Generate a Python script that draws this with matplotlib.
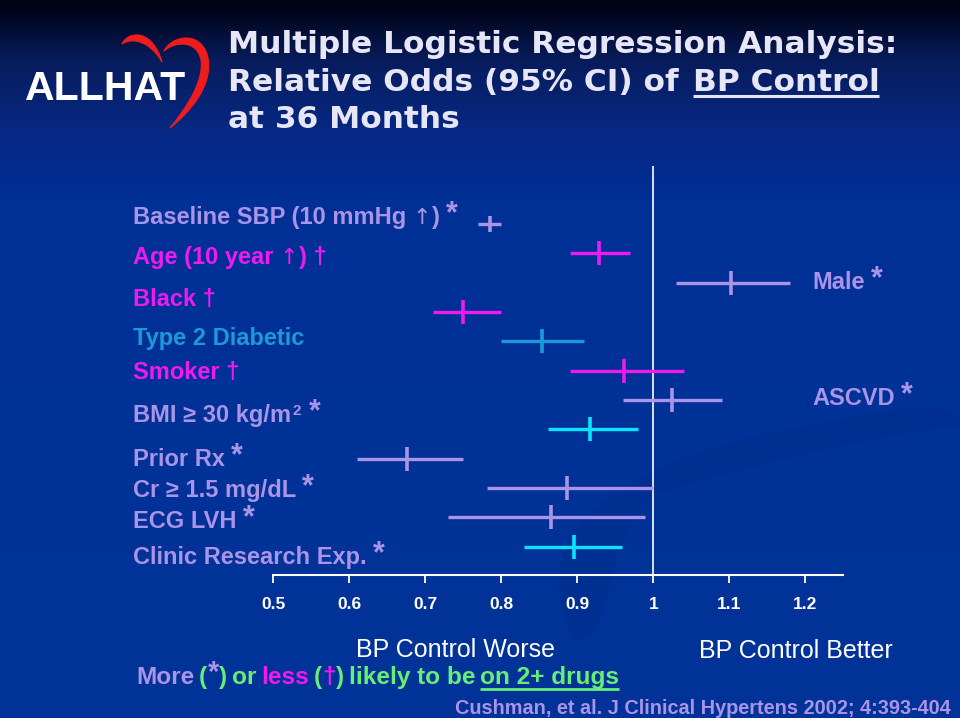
import numpy as np
import matplotlib
matplotlib.use("Agg")
import matplotlib.pyplot as plt
from matplotlib.path import Path
from matplotlib.patches import PathPatch

# ---------------- data ----------------
categories = ["Baseline SBP", "Age", "Male", "Black", "Type 2 Diabetic", "Smoker",
              "ASCVD", "BMI", "Prior Rx", "Cr", "ECG LVH", "Clinic Research Exp."]
odds = [0.785, 0.928, 1.102, 0.750, 0.853, 0.962, 1.025, 0.917, 0.676, 0.887, 0.866, 0.895]
ci_low = [0.769, 0.890, 1.030, 0.710, 0.800, 0.890, 0.960, 0.861, 0.610, 0.781, 0.730, 0.830]
ci_high = [0.800, 0.969, 1.180, 0.799, 0.909, 1.040, 1.090, 0.980, 0.750, 1.000, 0.989, 0.959]
x_ticks = [0.5, 0.6, 0.7, 0.8, 0.9, 1.0, 1.1, 1.2]
x_tick_labels = ["0.5", "0.6", "0.7", "0.8", "0.9", "1", "1.1", "1.2"]

LAV = "#a994e8"
MAG = "#f019f0"
TEAL = "#1c9ad8"
CYAN = "#08e4ff"
GREEN = "#66ee77"
TITLE = "#e6e6f6"

row_colors = [LAV, MAG, LAV, MAG, TEAL, MAG, LAV, CYAN, LAV, LAV, LAV, CYAN]

W, H = 960, 718
fig = plt.figure(figsize=(W / 100, H / 100), dpi=100)

# ---------------- background ----------------
bg = fig.add_axes([0, 0, 1, 1])
bg.set_xlim(0, W)
bg.set_ylim(H, 0)
bg.axis("off")
stops_y = [0, 18, 60, 130, 200, 718]
stops_c = np.array([(0, 3, 18), (2, 8, 36), (8, 28, 92), (6, 40, 132), (0, 48, 150), (0, 51, 153)]) / 255
ys = np.arange(H)
grad = np.stack([np.interp(ys, stops_y, stops_c[:, k]) for k in range(3)], axis=1)
img = np.repeat(grad[:, None, :], W, axis=1)
bg.imshow(img, extent=(0, W, H, 0), aspect="auto", zorder=0)

# faint swoosh
sw = Path([(575, 640), (520, 540), (610, 470), (760, 435), (880, 410), (960, 395), (960, 425),
           (880, 435), (770, 460), (650, 495), (600, 550), (615, 640), (575, 640)],
          [Path.MOVETO, Path.CURVE4, Path.CURVE4, Path.CURVE4, Path.CURVE4, Path.CURVE4, Path.LINETO,
           Path.CURVE4, Path.CURVE4, Path.CURVE4, Path.CURVE4, Path.CURVE4, Path.CLOSEPOLY])
bg.add_patch(PathPatch(sw, facecolor="#00287f", edgecolor="none", alpha=0.22, zorder=1))

# heart
left_lobe = Path([(122, 44), (128, 31), (152, 28), (162, 62),
                  (150, 41), (132, 37), (122, 44), (122, 44)],
                 [Path.MOVETO, Path.CURVE4, Path.CURVE4, Path.CURVE4,
                  Path.CURVE4, Path.CURVE4, Path.CURVE4, Path.CLOSEPOLY])
right_lobe = Path([(164, 51), (172, 35), (202, 30), (208, 58),
                   (213, 86), (190, 112), (170, 128),
                   (186, 108), (204, 82), (201, 60),
                   (197, 40), (175, 41), (164, 51), (164, 51)],
                  [Path.MOVETO, Path.CURVE4, Path.CURVE4, Path.CURVE4,
                   Path.CURVE4, Path.CURVE4, Path.CURVE4,
                   Path.CURVE4, Path.CURVE4, Path.CURVE4,
                   Path.CURVE4, Path.CURVE4, Path.CURVE4, Path.CLOSEPOLY])
for p in (left_lobe, right_lobe):
    bg.add_patch(PathPatch(p, facecolor="#ee1c1c", edgecolor="#ee1c1c", lw=0.8, zorder=3))

renderer = fig.canvas.get_renderer()
FAM = ["Liberation Sans", "DejaVu Sans"]
DJ = ["DejaVu Sans"]


def runs(x, y, parts, va="baseline"):
    """parts: list of (text, color, size, weight, dy, gap_after[, family])"""
    items = []
    for part in parts:
        s, color, size, weight, dy, gap = part[:6]
        fam = part[6] if len(part) > 6 else FAM
        t = bg.text(x, y + dy, s, color=color, fontsize=size, fontweight=weight,
                    family=fam, ha="left", va=va, zorder=5)
        bb = t.get_window_extent(renderer=renderer)
        items.append((t, x, x + bb.width))
        x += bb.width + gap
    return items


# ---------------- titles ----------------
bg.text(25, 100, "ALLHAT", color="white", fontsize=29.5, fontweight="bold",
        family=FAM, ha="left", va="baseline", zorder=5)
TF = dict(color=TITLE, fontsize=22.5, fontweight="bold", family=DJ,
          ha="left", va="baseline", zorder=5)
bg.text(228, 53, "Multiple Logistic Regression Analysis:", **TF)
t2 = bg.text(228, 91, "Relative Odds (95% CI) of", **TF)
bb2 = t2.get_window_extent(renderer=renderer)
x0 = 228 + bb2.width + 14
t3 = bg.text(x0, 91, "BP Control", **TF)
bb3 = t3.get_window_extent(renderer=renderer)
bg.plot([x0, x0 + bb3.width], [96, 96], color=TITLE, lw=2.2, zorder=5, solid_capstyle="butt")
bg.text(228, 128, "at 36 Months", **TF)

# ---------------- row labels ----------------
LS = 17
SS = 22
B = "bold"
N = "normal"


def lab(text, color, star=False, arrow_split=None):
    parts = []
    if arrow_split is not None:
        a, b = arrow_split
        parts += [(a, color, LS, B, 0, 6), ("↑", color, LS - 1, N, 0, 1, DJ), (b, color, LS, B, 0, 6)]
    else:
        parts.append((text, color, LS, B, 0, 6))
    if star:
        parts.append(("*", color, SS, B, -2, 0))
    return parts


labels = [
    (133, 224, lab(None, LAV, True, ("Baseline SBP (10 mmHg", ")"))),
    (133, 264, lab(None, MAG, False, ("Age (10 year", ") †"))),
    (133, 306, lab("Black †", MAG)),
    (133, 345, lab("Type 2 Diabetic", TEAL)),
    (133, 379, lab("Smoker †", MAG)),
    (133, 422, [("BMI ≥ 30 kg/m", LAV, LS, B, 0, 1), ("2", LAV, 11, B, -7, 8),
                ("*", LAV, SS, B, -2, 0)]),
    (133, 466, lab("Prior Rx", LAV, True)),
    (133, 497, lab("Cr ≥ 1.5 mg/dL", LAV, True)),
    (133, 528, lab("ECG LVH", LAV, True)),
    (133, 564, lab("Clinic Research Exp.", LAV, True)),
    (812, 289, lab("Male", LAV, True)),
    (812, 405, lab("ASCVD", LAV, True)),
]
for x, y, parts in labels:
    runs(x, y, parts)

# ---------------- forest plot ----------------
ax_left, ax_right = 273.3, 843.3
ax_top, ax_bot = 165.5, 575.0
ax = fig.add_axes([ax_left / W, 1 - ax_bot / H, (ax_right - ax_left) / W, (ax_bot - ax_top) / H])
ax.set_facecolor("none")
ax.patch.set_alpha(0)
ax.set_xlim(0.5, 1.25)
ax.set_ylim(11.97, -2.0)
for s in ("top", "right", "left"):
    ax.spines[s].set_visible(False)
ax.spines["bottom"].set_color("white")
ax.spines["bottom"].set_linewidth(1.5)
ax.set_yticks([])
ax.set_xticks(x_ticks)
ax.set_xticklabels(x_tick_labels, fontsize=12.5, fontweight="bold", color="white", family=FAM)
ax.tick_params(axis="x", colors="white", direction="out", length=6, width=1.3, pad=10)
ax.axvline(1.0, color="white", lw=1.2, zorder=2)

rows = np.arange(len(categories))
for i in rows:
    c = row_colors[i]
    ax.plot([ci_low[i], ci_high[i]], [i, i], color=c, lw=2.4, solid_capstyle="butt", zorder=3)
    ax.plot([odds[i]], [i], marker="|", color=c, markersize=12 if i == 0 else 17,
            markeredgewidth=2.6, zorder=4)

# ---------------- bottom text ----------------
BF = dict(color="white", fontsize=18, family=FAM, ha="center", va="baseline", zorder=5)
bg.text(455, 657, "BP Control Worse", **BF)
bg.text(796, 658, "BP Control Better", **BF)

BS = 17.6
parts = [("More", LAV, BS, B, 0, 5), ("(", GREEN, BS, B, 0, 0),
         ("*", LAV, 21, B, -3, 0), (")", GREEN, BS, B, 0, 5),
         ("or", GREEN, BS, B, 0, 5), ("less", MAG, BS, B, 0, 5),
         ("(", GREEN, BS, B, 0, 0), ("†", MAG, BS, B, 0, 0),
         (")", GREEN, BS, B, 0, 5), ("likely to be", GREEN, BS, B, 0, 5),
         ("on 2+ drugs", GREEN, BS, B, 0, 0)]
items = runs(136, 684, parts)
t_last, xa, xb = items[-1]
bg.plot([xa, xb], [689, 689], color=GREEN, lw=2.0, zorder=5, solid_capstyle="butt")

bg.text(951, 714, "Cushman, et al. J Clinical Hypertens 2002; 4:393-404", color=LAV,
        fontsize=14.3, fontweight="bold", family=FAM,
        ha="right", va="baseline", zorder=5)

fig.savefig("out.png", dpi=100)
